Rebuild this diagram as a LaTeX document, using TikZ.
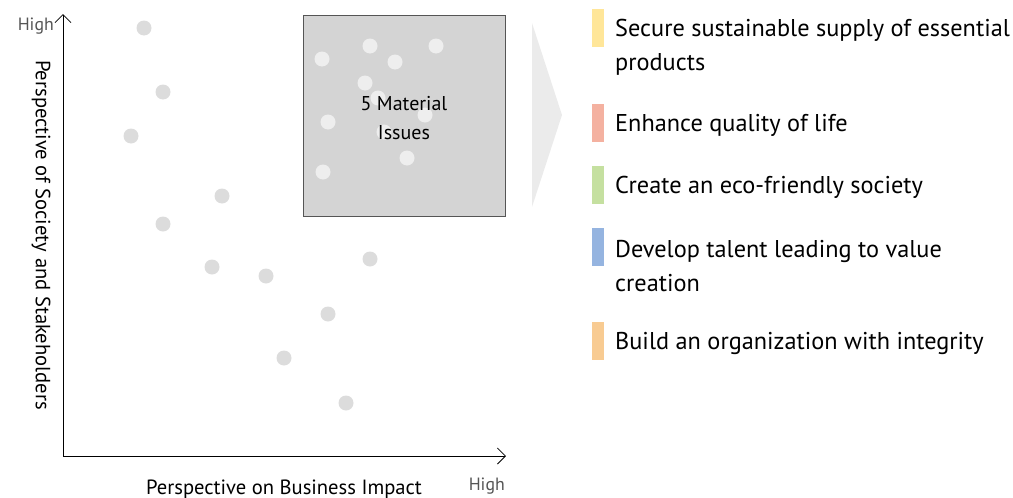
\documentclass[tikz,border=0pt]{standalone}
\usepackage{fontspec}
\setmainfont{PT Sans}
\usetikzlibrary{arrows.meta}
\definecolor{dotgray}{HTML}{DCDCDC}
\definecolor{boxgray}{HTML}{D4D4D4}
\definecolor{boxdot}{HTML}{EEEEEE}
\definecolor{chev}{HTML}{EBEBEB}
\definecolor{lowgray}{HTML}{555555}
\definecolor{cyellow}{HTML}{FFE699}
\definecolor{cred}{HTML}{F4B1A0}
\definecolor{cgreen}{HTML}{C5E0A0}
\definecolor{cblue}{HTML}{95B4E0}
\definecolor{corange}{HTML}{F8CB92}
\begin{document}
\begin{tikzpicture}[x=1pt,y=-1pt,
  axis/.style={draw=black, line width=0.9pt, -{Straight Barb[length=8pt,width=16pt,line width=0.8pt]}},
  dot/.style={circle, fill=dotgray, minimum size=15pt, inner sep=0pt},
  idot/.style={circle, fill=boxdot, minimum size=15pt, inner sep=0pt},
  bar/.style={minimum width=12pt, minimum height=38pt, inner sep=0pt},
  legend/.style={anchor=west, align=left, inner sep=0pt, font=\fontsize{24.3}{34}\selectfont},
  hightxt/.style={text=lowgray, inner sep=0pt, font=\fontsize{17.8}{20}\selectfont},
  axlabel/.style={inner sep=0pt, font=\fontsize{20.6}{24}\selectfont}
]
\useasboundingbox (0,0) rectangle (1013,498);

% dots outside box
\foreach \x/\y [count=\i] in {144/28,163/92,131/136,222/196,163/224,212/267,266/276,370/259,328/314,284/358,346/403}
  \node[dot] (d\i) at (\x,\y) {};

% box
\node[draw=lowgray, fill=boxgray, line width=0.8pt, minimum width=202pt, minimum height=201pt, inner sep=0pt] (box) at (404,115.5) {};
\foreach \x/\y [count=\i] in {322/59,370/46,436/46,395/62,365/83,378/98,425/115,328/122,384/132,407/158,323/172}
  \node[idot] (e\i) at (\x,\y) {};
\node[align=center, inner sep=0pt, font=\fontsize{20}{29}\selectfont] (mat) at (404,118) {5 Material\\Issues};

% chevron
\coordinate (c1) at (532,23);
\coordinate (c2) at (562,115);
\coordinate (c3) at (532,207);
\fill[chev] (c1) -- (c2) -- (c3) -- cycle;

% axes
\coordinate (o) at (63,456);
\coordinate (ytop) at (63,14);
\coordinate (xend) at (506,456);
\draw[axis] (o) -- (ytop);
\draw[axis] (o) -- (xend);

\node[hightxt, anchor=east] (hy) at (54,26) {High};
\node[hightxt, anchor=east] (hx) at (505,486) {High};
\node[axlabel] (xl) at (284,489) {Perspective on Business Impact};
\node[axlabel, rotate=-90] (yl) at (41,235) {Perspective of Society and Stakeholders};

% legend
\node[bar, fill=cyellow] (b1) at (598,28) {};
\node[bar, fill=cred] (b2) at (598,123) {};
\node[bar, fill=cgreen] (b3) at (598,185) {};
\node[bar, fill=cblue] (b4) at (598,247) {};
\node[bar, fill=corange] (b5) at (598,341) {};
\node[legend] (t1) at (615,47) {Secure sustainable supply of essential\\products};
\node[legend] (t2) at (615,125) {Enhance quality of life};
\node[legend] (t3) at (615,187) {Create an eco-friendly society};
\node[legend] (t4) at (615,266) {Develop talent leading to value\\creation};
\node[legend] (t5) at (615,343) {Build an organization with integrity};
\end{tikzpicture}
\end{document}
